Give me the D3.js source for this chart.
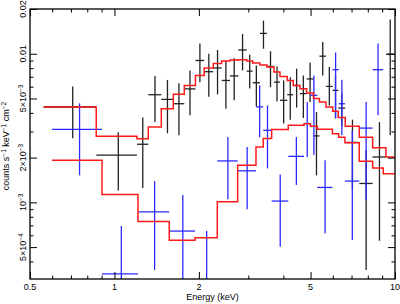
<!DOCTYPE html>
<html>
<head>
<meta charset="utf-8">
<script src="https://cdn.jsdelivr.net/npm/d3@7"></script>
<style>
  body { margin: 0; background: #fff; }
  svg { display: block; }
  text { font-family: "Liberation Sans", Arial, sans-serif; font-size: 9px; fill: #000; }
</style>
</head>
<body>
<svg id="chart" width="400" height="304"></svg>
<script>
// energy bins (keV) and rates (counts s-1 keV-1 cm-2)
const blackEdges = [0.559, 0.861, 1.203, 1.320, 1.469, 1.621, 1.774, 1.944, 2.089, 2.250, 2.411, 2.581,
  2.763, 2.960, 3.109, 3.300, 3.496, 3.703, 3.890, 4.129, 4.338, 4.584, 4.842, 5.120, 5.379, 5.674,
  5.994, 6.276, 6.647, 7.458, 8.323, 9.283, 9.95];
const blackRate = [4.38e-3, 2.08e-3, 2.46e-3, 5.30e-3, 4.93e-3, 4.61e-3, 5.80e-3, 9.01e-3, 7.57e-3, 8.02e-3,
  6.61e-3, 7.09e-3, 1.06e-2, 7.64e-3, 6.38e-3, 1.37e-2, 8.21e-3, 6.44e-3, 4.86e-3, 5.30e-3, 6.12e-3,
  5.39e-3, 6.77e-3, 2.80e-3, 9.63e-3, 6.03e-3, 5.67e-3, 4.31e-3, 2.53e-3, 1.34e-3, 2.02e-3, 9.93e-3];
const blackUp = [6.03e-3, 2.96e-3, 3.72e-3, 7.07e-3, 6.67e-3, 6.32e-3, 7.72e-3, 1.17e-2, 9.99e-3, 1.06e-2,
  9.01e-3, 9.34e-3, 1.36e-2, 9.84e-3, 8.34e-3, 1.67e-2, 1.04e-2, 8.21e-3, 6.61e-3, 6.96e-3, 7.93e-3,
  7.15e-3, 8.73e-3, 4.05e-3, 1.20e-2, 8.13e-3, 7.15e-3, 5.41e-3, 3.60e-3, 2.24e-3, 3.47e-3, 1.70e-2];
const blackDown = [2.70e-3, 1.20e-3, 1.25e-3, 3.47e-3, 2.92e-3, 2.83e-3, 3.85e-3, 6.44e-3, 5.13e-3, 5.33e-3,
  4.27e-3, 4.86e-3, 7.72e-3, 5.84e-3, 4.43e-3, 1.08e-2, 5.96e-3, 4.78e-3, 3.39e-3, 3.60e-3, 4.34e-3,
  3.70e-3, 4.73e-3, 1.52e-3, 7.15e-3, 4.49e-3, 3.68e-3, 3.25e-3, 1.21e-3, 3.51e-4, 5.52e-4, 2.83e-3];
const blackModel = [4.38e-3, 2.78e-3, 2.68e-3, 3.21e-3, 4.27e-3, 5.33e-3, 6.12e-3, 7.15e-3, 8.02e-3, 8.60e-3,
  8.94e-3, 9.08e-3, 9.11e-3, 8.94e-3, 8.67e-3, 8.40e-3, 8.15e-3, 7.54e-3, 7.04e-3, 6.61e-3, 6.12e-3,
  5.82e-3, 5.44e-3, 4.99e-3, 4.73e-3, 4.38e-3, 4.10e-3, 3.72e-3, 3.25e-3, 2.74e-3, 2.33e-3, 2.02e-3];

const blueEdges = [0.599, 0.903, 1.213, 1.568, 1.937, 2.326, 2.749, 3.195, 3.391, 3.633, 4.164, 4.737,
  4.996, 5.283, 5.984, 6.300, 6.630, 7.458, 8.323, 9.080, 10.2];
const blueRate = [3.10e-3, 3.30e-4, 8.64e-4, 6.41e-4, 2.4e-4, 1.90e-3, 1.63e-3, 4.39e-3, 3.05e-3, 1.02e-3,
  2.04e-3, 3.39e-3, 5.25e-3, 1.26e-3, 7.81e-3, 4.61e-3, 1.39e-3, 3.16e-3, 7.81e-3];
const blueUp = [4.64e-3, 6.93e-4, 1.39e-3, 1.12e-3, 6.41e-4, 2.75e-3, 2.36e-3, 6.12e-3, 4.49e-3, 1.54e-3,
  2.75e-3, 4.73e-3, 7.15e-3, 1.92e-3, 1.02e-2, 6.69e-3, 3.05e-3, 4.73e-3, 1.17e-2];
const blueDown = [1.52e-3, 2.0e-4, 3.51e-4, 2.0e-4, 1.0e-4, 1.05e-3, 8.97e-4, 2.74e-3, 1.69e-3, 5.03e-4,
  1.31e-3, 2.02e-3, 2.08e-3, 6.19e-4, 3.68e-3, 2.83e-3, 5.58e-4, 1.04e-3, 3.85e-3];
const blueModel = [1.92e-3, 1.13e-3, 7.43e-4, 5.55e-4, 5.78e-4, 1.01e-3, 1.78e-3, 2.36e-3, 2.69e-3, 3.09e-3,
  3.30e-3, 3.38e-3, 3.25e-3, 3.10e-3, 2.89e-3, 2.74e-3, 2.52e-3, 1.89e-3, 1.70e-3, 1.56e-3];

// axis ticks and labels
const xMajor = [0.5, 1, 2, 5, 10];
const xMinor = [0.6, 0.7, 0.8, 0.9, 3, 4, 6, 7, 8, 9];
const xLabels = ["0.5", "1", "2", "5", "10"];
const yMajor = [5e-4, 1e-3, 2e-3, 5e-3, 0.01, 0.02];
const yMinor = [4e-4, 6e-4, 7e-4, 8e-4, 9e-4, 3e-3, 4e-3, 6e-3, 7e-3, 8e-3, 9e-3];
const yLabels = [["5\u00d710", "\u22124"], ["10", "\u22123"], ["2\u00d710", "\u22123"], ["5\u00d710", "\u22123"], ["0.01", ""], ["0.02", ""]];

const plot = { left: 30, right: 395, top: 9, bottom: 279 };

const x = d3.scaleLog().domain([0.5, 10]).range([plot.left, plot.right]);
const y = d3.scaleLog().domain([3.05e-4, 0.02]).range([plot.bottom, plot.top]);

const svg = d3.select("#chart");

svg.append("defs").append("clipPath").attr("id", "clip")
  .append("rect")
  .attr("x", plot.left).attr("y", plot.top)
  .attr("width", plot.right - plot.left).attr("height", plot.bottom - plot.top);

const g = svg.append("g").attr("clip-path", "url(#clip)");

function drawData(edges, rate, up, down, color) {
  const pts = rate.map((v, i) => ({ lo: edges[i], hi: edges[i + 1], v: v, up: up[i], down: down[i] }));
  const grp = g.append("g").attr("stroke", color).attr("stroke-width", 1.3);
  grp.selectAll("line.h").data(pts).enter().append("line").attr("class", "h")
    .attr("x1", d => x(d.lo)).attr("x2", d => x(d.hi))
    .attr("y1", d => y(d.v)).attr("y2", d => y(d.v));
  grp.selectAll("line.v").data(pts).enter().append("line").attr("class", "v")
    .attr("x1", d => x((d.lo + d.hi) / 2)).attr("x2", d => x((d.lo + d.hi) / 2))
    .attr("y1", d => y(d.up)).attr("y2", d => y(d.down));
}

function drawModel(edges, model) {
  const pts = [];
  model.forEach((m, i) => {
    pts.push([edges[i], m]);
    pts.push([edges[i + 1], m]);
  });
  const line = d3.line().x(d => x(d[0])).y(d => y(d[1]));
  g.append("path").datum(pts)
    .attr("fill", "none")
    .attr("stroke", "#ff1a1a")
    .attr("stroke-width", 1.5)
    .attr("d", line);
}

drawData(blackEdges, blackRate, blackUp, blackDown, "#222");
drawData(blueEdges, blueRate, blueUp, blueDown, "#2a2aff");
drawModel(blackEdges, blackModel);
drawModel(blueEdges, blueModel);

// ticks on all four sides, pointing inward
function ticks(axisFn, scale, values, size, transform) {
  svg.append("g")
    .attr("transform", transform)
    .call(axisFn(scale).tickValues(values).tickSize(-size).tickFormat(""))
    .call(s => s.select(".domain").remove())
    .call(s => s.selectAll("line").attr("stroke", "#000").attr("stroke-width", 1));
}
ticks(d3.axisBottom, x, xMajor, 7, `translate(0,${plot.bottom})`);
ticks(d3.axisBottom, x, xMinor, 3.5, `translate(0,${plot.bottom})`);
ticks(d3.axisTop, x, xMajor, 7, `translate(0,${plot.top})`);
ticks(d3.axisTop, x, xMinor, 3.5, `translate(0,${plot.top})`);
ticks(d3.axisLeft, y, yMajor, 7, `translate(${plot.left},0)`);
ticks(d3.axisLeft, y, yMinor, 3.5, `translate(${plot.left},0)`);
ticks(d3.axisRight, y, yMajor, 7, `translate(${plot.right},0)`);
ticks(d3.axisRight, y, yMinor, 3.5, `translate(${plot.right},0)`);

svg.append("rect")
  .attr("x", plot.left).attr("y", plot.top)
  .attr("width", plot.right - plot.left).attr("height", plot.bottom - plot.top)
  .attr("fill", "none").attr("stroke", "#000").attr("stroke-width", 1.3);

// x tick labels
svg.selectAll("text.xl").data(xMajor).enter().append("text").attr("class", "xl")
  .attr("x", d => x(d)).attr("y", 290)
  .attr("text-anchor", "middle")
  .text((d, i) => xLabels[i]);

// y tick labels, rotated
svg.selectAll("text.yl").data(yMajor).enter().append("text").attr("class", "yl")
  .attr("transform", d => `translate(26,${y(d)}) rotate(-90)`)
  .attr("text-anchor", "middle")
  .each(function (d, i) {
    const t = d3.select(this);
    t.append("tspan").text(yLabels[i][0]);
    if (yLabels[i][1]) t.append("tspan").attr("dy", -3.5).style("font-size", "6.5px").text(yLabels[i][1]);
  });

svg.append("text")
  .attr("x", (plot.left + plot.right) / 2).attr("y", 300)
  .attr("text-anchor", "middle")
  .text("Energy (keV)");

const yt = svg.append("text")
  .attr("transform", `translate(9,${(plot.top + plot.bottom) / 2 + 2}) rotate(-90)`)
  .attr("text-anchor", "middle");
yt.append("tspan").text("counts s");
yt.append("tspan").attr("dy", -3.5).style("font-size", "6.5px").text("\u22121");
yt.append("tspan").attr("dy", 3.5).text(" keV");
yt.append("tspan").attr("dy", -3.5).style("font-size", "6.5px").text("\u22121");
yt.append("tspan").attr("dy", 3.5).text(" cm");
yt.append("tspan").attr("dy", -3.5).style("font-size", "6.5px").text("\u22122");
</script>
</body>
</html>
